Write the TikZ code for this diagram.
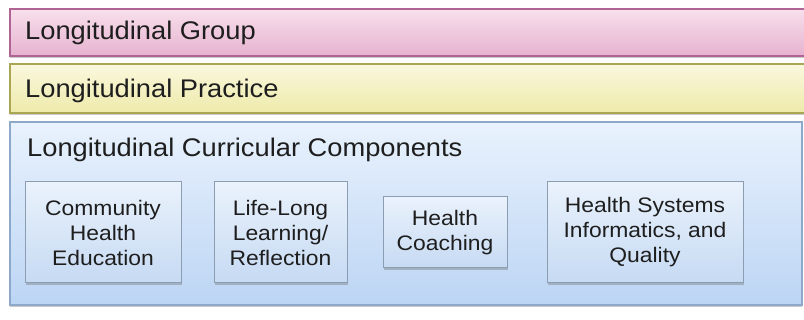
\documentclass[tikz,border=0pt]{standalone}
\usepackage{fontspec}
\setmainfont{Liberation Sans}
\newfontfamily\barfont[FakeStretch=1.07]{Liberation Sans}
\newfontfamily\boxfont[FakeStretch=1.09]{Liberation Sans}
\usetikzlibrary{shadows}
\definecolor{txt}{HTML}{1E1E1E}
\definecolor{pinkT}{HTML}{F8E0EC}
\definecolor{pinkB}{HTML}{E6B2CF}
\definecolor{pinkD}{HTML}{B06494}
\definecolor{yelT}{HTML}{FAF8DE}
\definecolor{yelB}{HTML}{EEEAAA}
\definecolor{yelD}{HTML}{A9A654}
\definecolor{bluT}{HTML}{E9F2FD}
\definecolor{bluB}{HTML}{BCD5F4}
\definecolor{bluD}{HTML}{8DA8C8}
\definecolor{boxT}{HTML}{EAF2FC}
\definecolor{boxB}{HTML}{C6DAF3}
\definecolor{boxD}{HTML}{8C9DB2}
\tikzset{
  bar/.style={line width=1.6pt, drop shadow={shadow xshift=0pt, shadow yshift=-2.5pt, opacity=0.35, fill=black!60}},
  bartext/.style={anchor=base west, inner sep=0pt, text=txt, font=\barfont\fontsize{25.5}{30}\selectfont},
  comp/.style={draw=boxD, line width=1pt, top color=boxT, bottom color=boxB, align=center, inner sep=0pt, text=txt,
    font=\boxfont\fontsize{21}{25}\selectfont,
    drop shadow={shadow xshift=1pt, shadow yshift=-2pt, opacity=0.35, fill=black!60}}
}
\begin{document}
\begin{tikzpicture}[x=1pt,y=-1pt]
\useasboundingbox (0,0) rectangle (804,320);
% bars
\draw[bar, draw=pinkD, top color=pinkT, bottom color=pinkB] (10,9) rectangle (815,56);
\node[bartext] (grp) at (25,40) {Longitudinal Group};
\draw[bar, draw=yelD, top color=yelT, bottom color=yelB] (10,64) rectangle (815,113);
\node[bartext] (prac) at (25,98) {Longitudinal Practice};
\draw[bar, draw=bluD, top color=bluT, bottom color=bluB, line width=1.2pt] (10,122) rectangle (802,305);
\node[bartext] (curr) at (27,157) {Longitudinal Curricular Components};
% component boxes
\node[comp, minimum width=156pt, minimum height=101pt] (c1) at (103,232.5) {Community\\Health\\Education};
\node[comp, minimum width=133pt, minimum height=101pt] (c2) at (280.5,232.5) {Life-Long\\Learning/\\Reflection};
\node[comp, minimum width=124pt, minimum height=71pt] (c3) at (445,232.5) {Health\\Coaching};
\node[comp, minimum width=196pt, minimum height=101pt] (c4) at (645,232.5) {Health Systems\\Informatics, and\\Quality};
\end{tikzpicture}
\end{document}
